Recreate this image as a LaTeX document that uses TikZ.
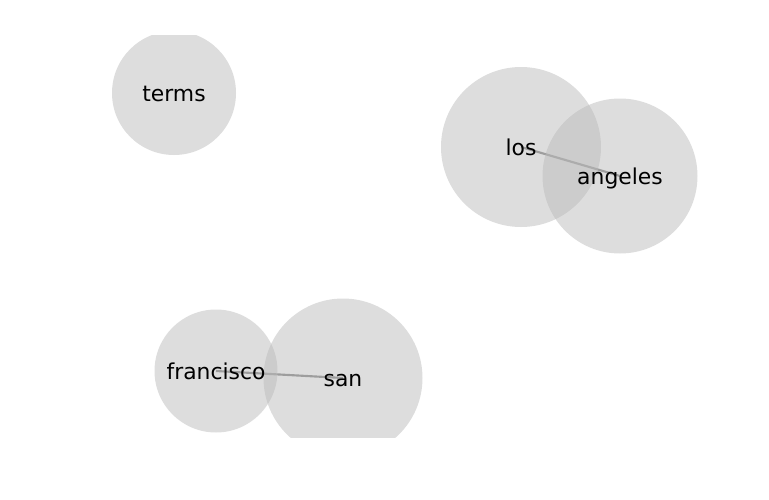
\documentclass[tikz,border=0pt]{standalone}
\usepackage{fontspec}
\setmainfont{DejaVu Sans}
\usepackage{tikz}

\tikzset{
  bubble/.style={fill={rgb,255:red,187;green,187;blue,187}, fill opacity=0.5},
  link/.style={draw={rgb,255:red,128;green,128;blue,128}, line width=1.6pt},
  word/.style={anchor=base, yshift=-6pt, inner sep=0pt, font=\fontsize{16.4}{19}\selectfont}
}

\begin{document}
\begin{tikzpicture}[x=0.75pt,y=-0.75pt]
\useasboundingbox (0,0) rectangle (769,500);
\coordinate (terms) at (174,93);
\coordinate (los) at (521,147);
\coordinate (angeles) at (620,176);
\coordinate (francisco) at (216,371);
\coordinate (san) at (343,378);

\begin{scope}
\clip (0,35) rectangle (769,437);
% edges first, the circles lie over them
\draw [link] (los) -- (angeles);
\draw [link] (francisco) -- (san);

\fill [bubble] (terms) circle (62);
\fill [bubble] (los) circle (80);
\fill [bubble] (angeles) circle (77.5);
\fill [bubble] (francisco) circle (61.5);
\fill [bubble] (san) circle (79.5);
\end{scope}

\node [word] (terms-t) at (terms) {terms};
\node [word] (los-t) at (los) {los};
\node [word] (angeles-t) at (angeles) {angeles};
\node [word] (francisco-t) at (francisco) {francisco};
\node [word] (san-t) at (san) {san};
\end{tikzpicture}
\end{document}
